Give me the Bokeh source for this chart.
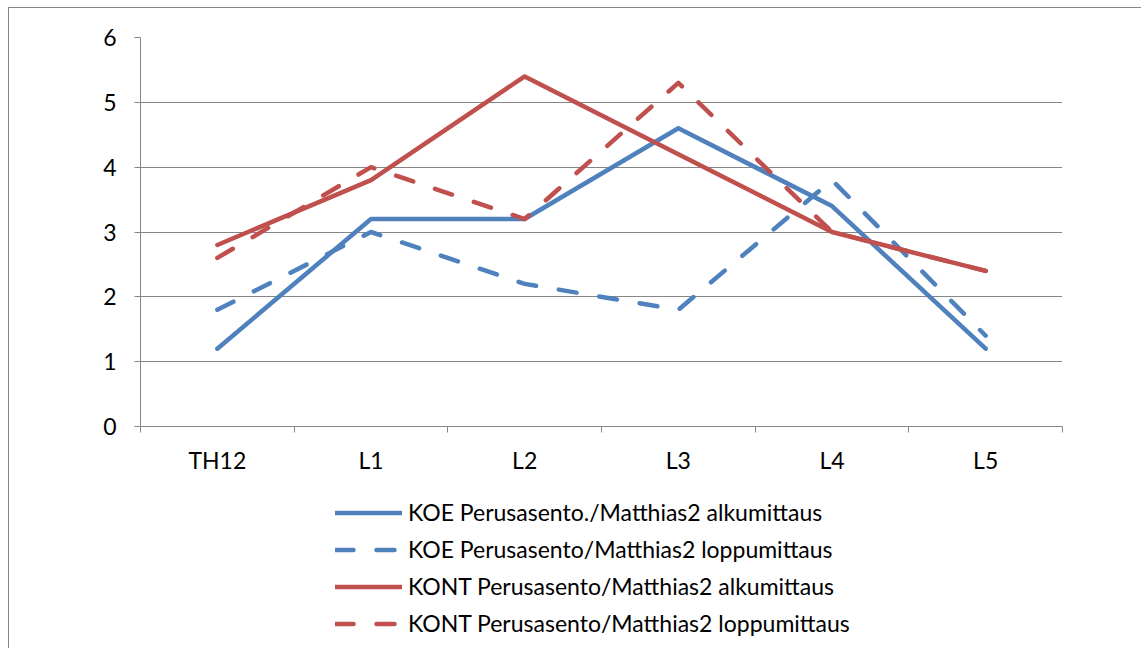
from bokeh.plotting import figure
from bokeh.models import FixedTicker, Legend, LegendItem
from bokeh.layouts import column
from bokeh.embed import file_html
from bokeh.resources import INLINE

categories = ["TH12", "L1", "L2", "L3", "L4", "L5"]
koe_alku = [1.2, 3.2, 3.2, 4.6, 3.4, 1.2]
koe_loppu = [1.8, 3.0, 2.2, 1.8, 3.8, 1.4]
kont_alku = [2.8, 3.8, 5.4, 4.2, 3.0, 2.4]
kont_loppu = [2.6, 4.0, 3.2, 5.3, 3.0, 2.4]
series_names = [
    "KOE Perusasento./Matthias2 alkumittaus",
    "KOE Perusasento/Matthias2 loppumittaus",
    "KONT Perusasento/Matthias2 alkumittaus",
    "KONT Perusasento/Matthias2 loppumittaus",
]
y_ticks = [0, 1, 2, 3, 4, 5, 6]

BLUE = "#4F81BD"
RED = "#C0504D"
GRAY = "#868686"
FONT = "Lato"
FS = "23px"

xs = [i + 0.5 for i in range(len(categories))]

p = figure(width=1132, height=478, x_range=(0, len(categories)), y_range=(0, 6),
           output_backend="svg", toolbar_location=None,
           min_border_left=131, min_border_right=79, min_border_top=29, min_border_bottom=60)
p.outline_line_color = None
p.xgrid.grid_line_color = None
p.ygrid.grid_line_color = GRAY
p.ygrid.grid_line_width = 1

p.yaxis.ticker = FixedTicker(ticks=y_ticks)
p.yaxis.axis_line_color = GRAY
p.yaxis.major_tick_line_color = GRAY
p.yaxis.major_tick_out = 6
p.yaxis.major_tick_in = 0
p.yaxis.minor_tick_line_color = None
p.yaxis.major_label_standoff = 18
p.yaxis.major_label_text_font = FONT
p.yaxis.major_label_text_font_size = FS
p.yaxis.major_label_text_color = "black"

p.xaxis.ticker = FixedTicker(ticks=xs, minor_ticks=list(range(len(categories) + 1)))
p.xaxis.major_label_overrides = {x: c for x, c in zip(xs, categories)}
p.xaxis.axis_line_color = GRAY
p.xaxis.major_tick_line_color = None
p.xaxis.major_tick_out = 0
p.xaxis.major_tick_in = 0
p.xaxis.minor_tick_line_color = GRAY
p.xaxis.minor_tick_out = 6
p.xaxis.minor_tick_in = 0
p.xaxis.major_label_standoff = 13
p.xaxis.major_label_text_font = FONT
p.xaxis.major_label_text_font_size = FS
p.xaxis.major_label_text_color = "black"

styles = [(koe_alku, BLUE, "solid"), (koe_loppu, BLUE, "18 23"),
          (kont_alku, RED, "solid"), (kont_loppu, RED, "18 23")]
for vals, col, dash in styles:
    p.line(xs, vals, line_color=col, line_width=4.5, line_dash=dash,
           line_cap="round", line_join="round")

# legend panel below the chart
p2 = figure(width=1132, height=162, x_range=(100, 101), y_range=(0, 6),
            output_backend="svg", toolbar_location=None,
            x_axis_type=None, y_axis_type=None,
            min_border_left=0, min_border_right=0, min_border_top=0, min_border_bottom=0)
p2.outline_line_color = None
p2.xgrid.grid_line_color = None
p2.ygrid.grid_line_color = None
items = []
for name, (vals, col, dash) in zip(series_names, styles):
    r = p2.line(xs, vals, line_color=col, line_width=4.5, line_dash=dash,
                line_cap="round", line_join="round")
    items.append(LegendItem(label=name, renderers=[r]))

legend = Legend(items=items, location=(195, 11), orientation="vertical",
                glyph_width=67, glyph_height=21, label_height=21, spacing=9,
                label_standoff=6, padding=0, margin=0,
                border_line_color=None, background_fill_alpha=0,
                label_text_font=FONT, label_text_font_size=FS, label_text_color="black")
p2.add_layout(legend, "center")

layout = column(p, p2, spacing=0,
                styles={"border-left": "1px solid " + GRAY, "border-top": "1px solid " + GRAY,
                        "margin-left": "8px", "margin-top": "7px"})

open("out.html", "w").write(file_html(layout, INLINE))
